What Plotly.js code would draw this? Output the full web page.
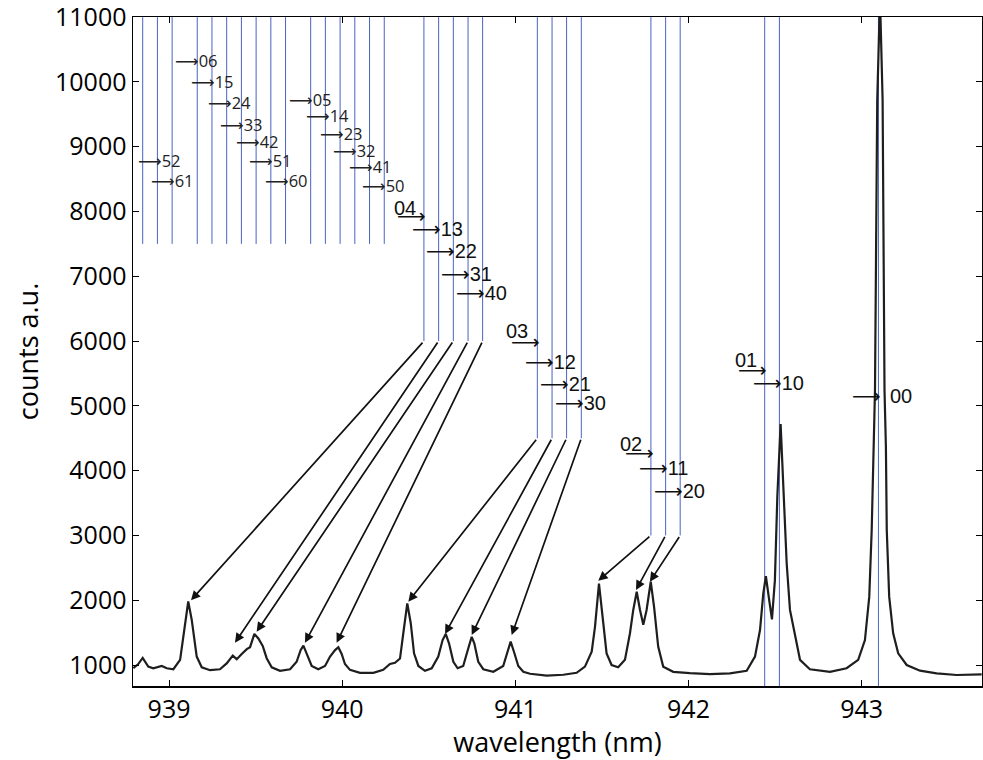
<!DOCTYPE html>
<html>
<head>
<meta charset="utf-8">
<script src="https://cdn.plot.ly/plotly-3.0.1.min.js"></script>
<style>html,body{margin:0;padding:0;background:#fff;}#chart{width:983px;height:760px;}</style>
</head>
<body>
<div id="chart"></div>
<script>
// Spectrum (wavelength in nm, counts a.u.)
const wavelength = [
 938.794,938.821,938.848,938.880,938.909,938.958,938.987,939.025,939.064,939.092,
 939.111,939.131,939.160,939.189,939.237,939.294,939.333,939.368,939.391,939.420,
 939.449,939.468,939.493,939.516,939.541,939.564,939.593,939.641,939.699,939.737,
 939.760,939.776,939.795,939.824,939.862,939.901,939.930,939.959,939.978,939.997,
 940.016,940.045,940.103,940.180,940.237,940.276,940.305,940.334,940.353,940.376,
 940.396,940.415,940.440,940.478,940.517,940.555,940.580,940.598,940.617,940.642,
 940.667,940.699,940.728,940.748,940.763,940.786,940.815,940.873,940.930,940.954,
 940.973,940.992,941.017,941.046,941.085,941.181,941.277,941.354,941.402,941.441,
 941.460,941.483,941.504,941.527,941.556,941.594,941.633,941.662,941.681,941.701,
 941.720,941.739,941.758,941.782,941.801,941.825,941.854,941.912,942.008,942.124,
 942.239,942.336,942.384,942.413,942.432,942.447,942.466,942.482,942.499,942.513,
 942.532,942.551,942.567,942.586,942.615,942.644,942.701,942.817,942.913,942.980,
 943.019,943.044,943.058,943.067,943.077,943.090,943.106,943.121,943.132,943.140,
 943.145,943.159,943.182,943.211,943.260,943.337,943.433,943.549,943.693
];
const counts = [
 950,1010,1110,975,950,985,950,935,1080,1595,
 1980,1700,1130,965,920,935,1025,1145,1090,1170,
 1245,1275,1480,1410,1295,1105,965,910,935,1050,
 1230,1300,1180,985,935,985,1130,1230,1275,1170,
 1015,925,880,880,925,1015,1035,1100,1490,1950,
 1645,1180,985,910,950,1130,1385,1480,1335,1050,
 950,985,1255,1435,1335,1050,935,895,985,1205,
 1360,1205,985,895,865,835,850,880,975,1205,
 1590,2255,1745,1180,1000,965,1080,1490,1850,2130,
 1850,1620,1850,2285,1900,1285,975,895,875,860,
 870,910,1130,1540,2105,2370,2000,1705,2310,3600,
 4720,3600,2570,1850,1490,1080,935,895,950,1080,
 1385,2055,3085,4370,5240,9720,11300,9720,5240,4370,
 3085,2055,1490,1180,1000,912,872,846,855
];

// Transition marker lines (wavelength, lower end in counts; all reach the top)
const lineWl = [
 938.848,938.933,939.018,939.163,939.248,939.333,939.418,939.503,939.588,939.673,
 939.818,939.903,939.988,940.073,940.158,940.243,
 940.472,940.557,940.642,940.727,940.811,
 941.127,941.212,941.296,941.381,
 941.783,941.868,941.952,
 942.440,942.525,
 943.097
];
const lineBottom = [
 7500,7500,7500,7500,7500,7500,7500,7500,7500,7500,
 7500,7500,7500,7500,7500,7500,
 6000,6000,6000,6000,6000,
 4500,4500,4500,4500,
 3000,3000,3000,
 676,676,
 676
];
const lineTop = 11000;

// Labels: arrow start (wavelength, counts) then the label text
const smallLabels = ['06','15','24','33','42','51','60','52','61','05','14','23','32','41','50'];
const smallX = [939.025,939.115,939.214,939.285,939.375,939.452,939.545,938.809,938.886,939.680,939.780,939.859,939.937,940.026,940.103];
const smallY = [10336,10002,9677,9349,9076,8782,8474,8782,8474,9735,9488,9205,8948,8690,8407];

const bigLabels = ['13','22','31','40','12','21','30','11','20','10'];
const bigX = [940.392,940.474,940.561,940.646,941.046,941.132,941.216,941.701,941.787,942.359];
const bigY = [7724,7389,7029,6736,5671,5336,5048,4035,3690,5357];

// Labels written above their arrow
const topLabels = ['04','03','02','01'];
const topTextX = [940.286,940.934,941.594,942.258];
const topTextY = [8060,6159,4410,5707];
const topArrowX = [940.305,940.965,941.620,942.274];
const topArrowY = [7929,5980,4267,5552];

// 00 label: arrow and text separated by the peak
const zeroArrowX = 942.932, zeroArrowY = 5151;
const zeroText = '00', zeroTextX = 943.153, zeroTextY = 5151;

// Diagonal arrows: from marker line end to its peak
const tailWl = [940.472,940.557,940.642,940.727,940.811,941.127,941.212,941.296,941.381,941.783,941.868,941.952];
const tailCounts = [6000,6000,6000,6000,6000,4500,4500,4500,4500,3000,3000,3000];
const tipWl = [939.127,939.381,939.506,939.785,939.968,940.382,940.594,940.748,940.979,941.479,941.697,941.777];
const tipCounts = [2000,1344,1514,1344,1344,1977,1478,1463,1463,2301,2157,2286];

const yTicks = [1000,2000,3000,4000,5000,6000,7000,8000,9000,10000,11000];
const xTicks = [939, 940, 941, 942, 943];

const lx = [], ly = [];
lineWl.forEach((w, i) => { lx.push(w, w, null); ly.push(lineBottom[i], lineTop, null); });

const traces = [
  {x: lx, y: ly, type: 'scatter', mode: 'lines', line: {color: '#4a63c4', width: 1}, hoverinfo: 'skip', showlegend: false},
  {x: wavelength, y: counts, type: 'scatter', mode: 'lines', line: {color: '#1e1e1e', width: 2.2}, showlegend: false}
];

const ARW = '<span style="font-family:\'DejaVu Sans\'">⟶</span>';
const annotations = [];
smallLabels.forEach((t, i) => annotations.push({
  x: smallX[i], y: smallY[i], xref: 'x', yref: 'y', text: ARW + t, showarrow: false,
  xanchor: 'left', yanchor: 'middle', font: {family: 'Open Sans', size: 16.5, color: '#222'}
}));
bigLabels.forEach((t, i) => annotations.push({
  x: bigX[i], y: bigY[i], xref: 'x', yref: 'y', text: ARW + t, showarrow: false,
  xanchor: 'left', yanchor: 'middle', font: {family: 'Liberation Sans, Arial', size: 20, color: '#111'}
}));
topLabels.forEach((t, i) => {
  annotations.push({x: topTextX[i], y: topTextY[i], xref: 'x', yref: 'y', text: t, showarrow: false,
    xanchor: 'left', yanchor: 'middle', font: {family: 'Liberation Sans, Arial', size: 20, color: '#111'}});
  annotations.push({x: topArrowX[i], y: topArrowY[i], xref: 'x', yref: 'y', text: ARW, showarrow: false,
    xanchor: 'left', yanchor: 'middle', font: {family: 'DejaVu Sans', size: 20, color: '#111'}});
});
annotations.push({x: zeroArrowX, y: zeroArrowY, xref: 'x', yref: 'y', text: ARW, showarrow: false,
  xanchor: 'left', yanchor: 'middle', font: {family: 'DejaVu Sans', size: 20, color: '#111'}});
annotations.push({x: zeroTextX, y: zeroTextY, xref: 'x', yref: 'y', text: zeroText, showarrow: false,
  xanchor: 'left', yanchor: 'middle', font: {family: 'Liberation Sans, Arial', size: 20, color: '#111'}});
tailWl.forEach((w, i) => annotations.push({
  x: tipWl[i], y: tipCounts[i], xref: 'x', yref: 'y', ax: w, ay: tailCounts[i], axref: 'x', ayref: 'y',
  text: '', showarrow: true, arrowhead: 2, arrowsize: 1.1, arrowwidth: 1.7, arrowcolor: '#111', standoff: 0
}));

const axisCommon = {
  showline: true, linecolor: '#000', linewidth: 1.5, mirror: 'ticks',
  ticks: 'inside', ticklen: 6, tickwidth: 1, tickcolor: '#000',
  showgrid: false, zeroline: false, tickformat: 'd', ticklabeloverflow: 'allow',
  tickfont: {family: 'Open Sans', size: 25, color: '#000'}
};

const layout = {
  width: 983, height: 760,
  margin: {l: 133, r: 1, t: 17, b: 74},
  paper_bgcolor: '#fff', plot_bgcolor: '#fff',
  xaxis: Object.assign({}, axisCommon, {
    range: [938.792, 943.695], tickvals: xTicks,
    title: {text: 'wavelength (nm)', font: {family: 'Open Sans', size: 27, color: '#000'}, standoff: 2}
  }),
  yaxis: Object.assign({}, axisCommon, {
    range: [676, 11002], tickvals: yTicks, ticktext: yTicks.map(String),
    title: {text: 'counts a.u.', font: {family: 'Open Sans', size: 27, color: '#000'}, standoff: 8}
  }),
  annotations: annotations,
  showlegend: false
};

Plotly.newPlot('chart', traces, layout, {displayModeBar: false, staticPlot: true});
</script>
</body>
</html>
